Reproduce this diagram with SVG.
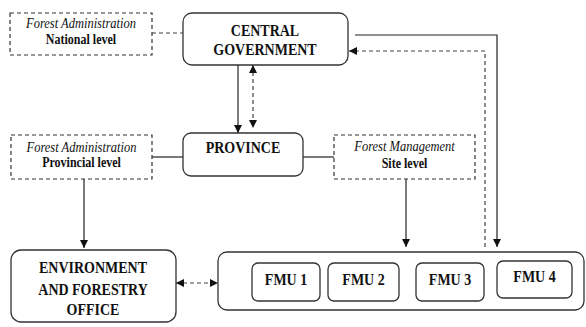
<svg xmlns="http://www.w3.org/2000/svg" width="586" height="327" viewBox="0 0 586 327" font-family="'Liberation Serif', serif">
<style>
.box{fill:#fff;stroke:#333;stroke-width:1.3}
.dbox{fill:#fff;stroke:#333;stroke-width:1.2;stroke-dasharray:4 3}
text{font-family:'Liberation Serif','Times New Roman',serif;text-anchor:middle;fill:#111}
.t{font-weight:bold;font-size:14px}
.s{font-weight:bold;font-size:12px}
.i{font-style:italic;font-size:12.5px}
.c{fill:none;stroke:#222;stroke-width:1.2}
.d{fill:none;stroke:#444;stroke-width:1.2;stroke-dasharray:4 3}
</style>
<defs>
<marker id="ah" markerUnits="userSpaceOnUse" markerWidth="8" markerHeight="8" refX="8" refY="4" orient="auto-start-reverse">
<path d="M0,0 L8,4 L0,8 z" fill="#111"/>
</marker>
</defs>
<rect width="586" height="327" fill="#fff"/>
<g id="connectors">
<path class="d" d="M152,33 H183"/>
<path class="c" d="M355,35 H497 V247" marker-end="url(#ah)"/>
<path class="d" d="M485,247 V51 H349" marker-end="url(#ah)"/>
<path class="c" d="M238,65 V133" marker-end="url(#ah)"/>
<path class="d" d="M253,65 V128" marker-start="url(#ah)" marker-end="url(#ah)"/>
<path class="c" d="M152,157 H183"/>
<path class="c" d="M303,157 H334"/>
<path class="c" d="M406,179 V247" marker-end="url(#ah)"/>
<path class="c" d="M84,179 V248" marker-end="url(#ah)"/>
<path class="d" d="M176,283 H218" marker-start="url(#ah)" marker-end="url(#ah)"/>
</g>
<g id="national">
<rect class="dbox" x="10" y="13" width="142" height="42"/>
<text class="i" transform="translate(81 28) scale(1 1.1)">Forest Administration</text>
<text class="s" transform="translate(81 44) scale(1 1.15)">National level</text>
</g>
<g id="central">
<rect class="box" x="183" y="13" width="165" height="52" rx="9"/>
<text class="t" transform="translate(265 36) scale(1 1.25)">CENTRAL</text>
<text class="t" transform="translate(265 55) scale(1 1.25)">GOVERNMENT</text>
</g>
<g id="provincial">
<rect class="dbox" x="11" y="135" width="141" height="44"/>
<text class="i" transform="translate(81.5 152) scale(1 1.1)">Forest Administration</text>
<text class="s" transform="translate(81.5 167) scale(1 1.15)">Provincial level</text>
</g>
<g id="province">
<rect class="box" x="183" y="133" width="120" height="43" rx="8"/>
<text class="t" transform="translate(243 153) scale(1 1.25)">PROVINCE</text>
</g>
<g id="site">
<rect class="dbox" x="334" y="135" width="141" height="44"/>
<text class="i" transform="translate(404.5 151) scale(1 1.1)">Forest Management</text>
<text class="s" transform="translate(404.5 168) scale(1 1.15)">Site level</text>
</g>
<g id="efo">
<rect class="box" x="11" y="250" width="165" height="72" rx="10"/>
<text class="t" transform="translate(93 273) scale(1 1.25)">ENVIRONMENT</text>
<text class="t" transform="translate(93 295) scale(1 1.25)">AND FORESTRY</text>
<text class="t" transform="translate(93 315) scale(1 1.25)">OFFICE</text>
</g>
<g id="fmu-group">
<rect class="box" x="218" y="252" width="366" height="58" rx="9"/>
</g>
<g id="fmu1">
<rect class="box" x="252" y="263" width="68" height="38" rx="6"/>
<text class="t" transform="translate(286 285) scale(1 1.25)">FMU 1</text>
</g>
<g id="fmu2">
<rect class="box" x="328" y="263" width="71" height="38" rx="6"/>
<text class="t" transform="translate(363.5 285) scale(1 1.25)">FMU 2</text>
</g>
<g id="fmu3">
<rect class="box" x="416" y="263" width="68" height="38" rx="6"/>
<text class="t" transform="translate(450 285) scale(1 1.25)">FMU 3</text>
</g>
<g id="fmu4">
<rect class="box" x="497" y="261" width="75" height="37" rx="6"/>
<text class="t" transform="translate(534.5 282) scale(1 1.25)">FMU 4</text>
</g>
</svg>
